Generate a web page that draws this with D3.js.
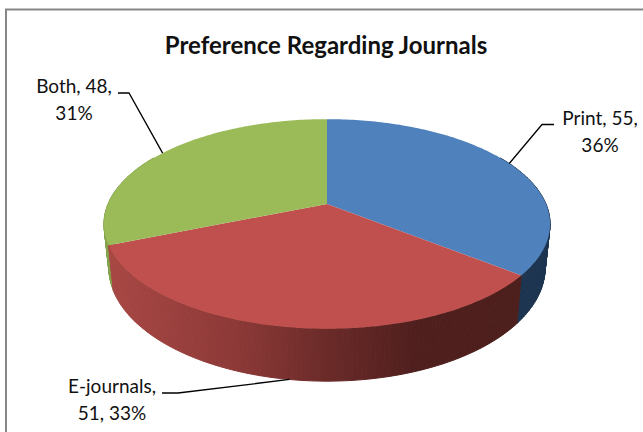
<!DOCTYPE html>
<html><head><meta charset="utf-8">
<script src="https://cdnjs.cloudflare.com/ajax/libs/d3/7.8.5/d3.min.js"></script>
<style>html,body{margin:0;padding:0;background:#fff;overflow:hidden}svg{display:block}text{font-family:Lato,"Open Sans",sans-serif;fill:#111}</style>
</head><body><svg id="c" width="643" height="432"></svg>
<script>
const categories = ["Print", "E-journals", "Both"];
const values = [55, 51, 48];
const percents = ["36%", "33%", "31%"];
const titleText = "Preference Regarding Journals";
const faceColors = ["#4f81bd", "#c0504d", "#9bbb59"];

const svg = d3.select("#c");
svg.append("path").attr("d", "M6,432V9.5H643").attr("fill", "none").attr("stroke", "#868686").attr("stroke-width", 2);
svg.append("text").attr("x", 326).attr("y", 54).attr("text-anchor", "middle")
  .attr("font-size", 24).attr("font-weight", 700).attr("fill", "#000").text(titleText);

// Tilted-disc projection: angle on the disc to screen position (perspective)
const cx = 327, cy = 204, ax = 219, by = 101, k = 0.19;
const topPt = a => { const u = Math.sin(a), v = -Math.cos(a), w = 1 - k * v; return [cx + ax * u / w, cy + by * v / w]; };
const basePt = a => { const p = topPt(a); return [cx + 0.978 * (p[0] - cx), cy + 42 + 1.084 * (p[1] - cy)]; };
const arcs = d3.pie().sort(null).value(d => d)(values);
const line = d3.line();
const samples = (a0, a1, step) => d3.range(a0, a1, step).concat([a1]);
const rad = d => d * Math.PI / 180;

// side wall shading: horizontal gradients
const wallStops = [
  [[0, "#1c344f"], [1, "#1c344f"]],
  [[0, "#a84744"], [0.31, "#8c3937"], [0.52, "#6c2b29"], [0.75, "#4f1f1d"], [1, "#4c1e1c"]],
  [[0, "#8aa84f"], [1, "#7f9c49"]]
];
const wallX = [[330, 560], [110, 520], [100, 115]];
const defs = svg.append("defs");
wallStops.forEach((stops, i) => {
  const g = defs.append("linearGradient").attr("id", "wall" + i).attr("gradientUnits", "userSpaceOnUse")
    .attr("x1", wallX[i][0]).attr("x2", wallX[i][1]).attr("y1", 0).attr("y2", 0);
  stops.forEach(s => g.append("stop").attr("offset", s[0]).attr("stop-color", s[1]));
});
const wallRange = [
  [rad(60), arcs[0].endAngle],
  [arcs[1].startAngle, arcs[1].endAngle],
  [arcs[2].startAngle, rad(300)]
];
[0, 2, 1].forEach(i => {
  const [a0, a1] = wallRange[i];
  const st = samples(a0, a1, rad(1));
  svg.append("g").selectAll("path").data(d3.pairs(st)).join("path")
    .attr("d", ([s, e]) => line([topPt(s), topPt(e), basePt(e), basePt(s)]) + "Z")
    .attr("fill", `url(#wall${i})`)
    .attr("stroke", `url(#wall${i})`)
    .attr("stroke-width", 1);
});

// top faces
svg.append("g").selectAll("path").data(arcs).join("path")
  .attr("d", d => line([[cx, cy], ...samples(d.startAngle, d.endAngle, rad(1)).map(topPt)]) + "Z")
  .attr("fill", (d, i) => faceColors[i]);

// labels
const labelLines = [
  [`${categories[0]}, ${values[0]},`, percents[0]],
  [`${categories[1]},`, `${values[1]}, ${percents[1]}`],
  [`${categories[2]}, ${values[2]},`, percents[2]]
];
const labelX = [600, 112, 74], labelY = [125, 393, 93];
const elbows = [[[554, 124.5], [542, 124.5]], [[162, 393], [178, 393]], [[118, 93], [129, 93]]];
const anchorFn = [topPt, basePt, topPt];
arcs.forEach((d, i) => {
  const mid = (d.startAngle + d.endAngle) / 2;
  svg.append("path").attr("d", line([...elbows[i], anchorFn[i](mid)]))
    .attr("fill", "none").attr("stroke", "#000").attr("stroke-width", 1.3);
  svg.append("g").selectAll("text").data(labelLines[i]).join("text")
    .attr("x", labelX[i]).attr("y", (t, j) => labelY[i] + j * 26.5)
    .attr("text-anchor", "middle").attr("font-size", 19).text(t => t);
});
</script></body></html>
